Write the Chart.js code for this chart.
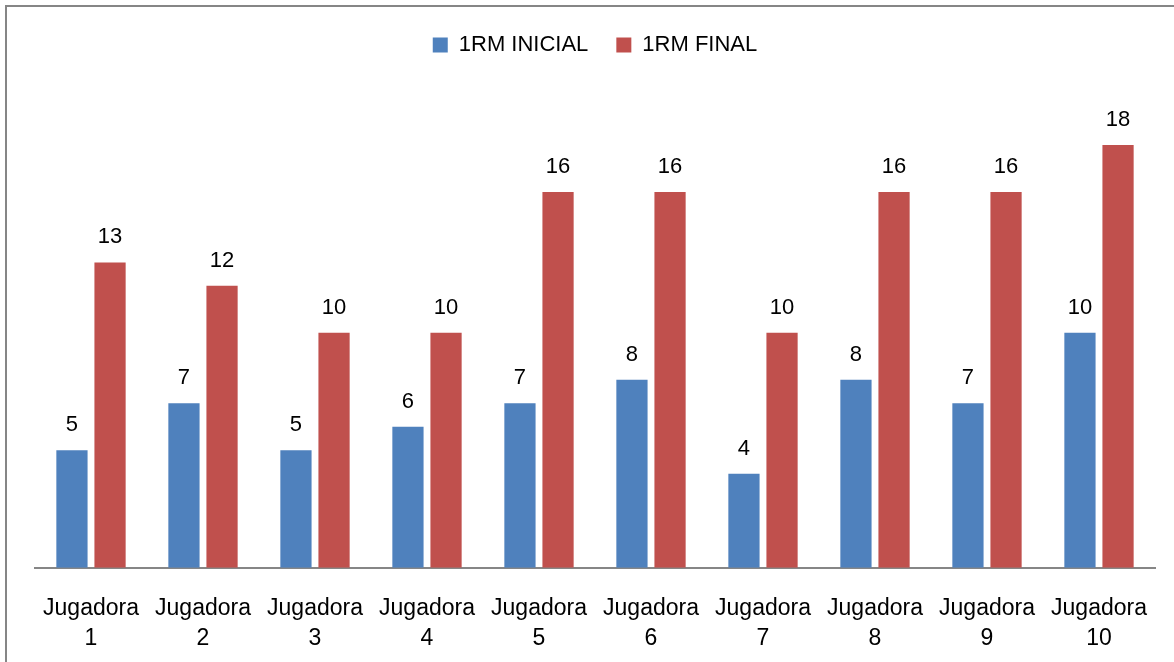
<!DOCTYPE html>
<html>
<head>
<meta charset="utf-8">
<script src="https://cdn.jsdelivr.net/npm/chart.js@4.4.0/dist/chart.umd.min.js"></script>
<style>
  html, body { margin: 0; padding: 0; background: #fff; overflow: hidden; }
  #caja { position: absolute; left: 0; top: 0; width: 1174px; height: 671px; }
</style>
</head>
<body>
<div id="caja"><canvas id="grafica"></canvas></div>
<script>
// Datos
const jugadoras = [
  ["Jugadora", "1"], ["Jugadora", "2"], ["Jugadora", "3"], ["Jugadora", "4"], ["Jugadora", "5"],
  ["Jugadora", "6"], ["Jugadora", "7"], ["Jugadora", "8"], ["Jugadora", "9"], ["Jugadora", "10"]
];
const rmInicial = [5, 7, 5, 6, 7, 8, 4, 8, 7, 10];
const rmFinal = [13, 12, 10, 10, 16, 16, 10, 16, 16, 18];

const fuente = "'Liberation Sans', 'DejaVu Sans', sans-serif";

// Marco gris (solo se ven los bordes izquierdo y superior)
const marco = {
  id: "marco",
  beforeDraw(chart) {
    const ctx = chart.ctx;
    ctx.save();
    ctx.strokeStyle = "#868686";
    ctx.lineWidth = 2;
    ctx.beginPath();
    ctx.moveTo(6, chart.height + 5);
    ctx.lineTo(6, 6);
    ctx.lineTo(chart.width + 5, 6);
    ctx.stroke();
    ctx.restore();
  }
};

// Más espacio debajo de la leyenda
const espacioLeyenda = {
  id: "espacioLeyenda",
  beforeInit(chart) {
    const fitOriginal = chart.legend.fit;
    chart.legend.fit = function () {
      fitOriginal.bind(chart.legend)();
      this.height += 32;
    };
  }
};

// Etiquetas de valor encima de cada barra
const etiquetas = {
  id: "etiquetas",
  afterDatasetsDraw(chart) {
    const ctx = chart.ctx;
    ctx.save();
    ctx.font = "22px " + fuente;
    ctx.fillStyle = "#000";
    ctx.textAlign = "center";
    ctx.textBaseline = "alphabetic";
    chart.data.datasets.forEach((ds, i) => {
      chart.getDatasetMeta(i).data.forEach((bar, j) => {
        ctx.fillText(ds.data[j], bar.x, bar.y - 19);
      });
    });
    ctx.restore();
  }
};

new Chart(document.getElementById("grafica"), {
  type: "bar",
  data: {
    labels: jugadoras,
    datasets: [
      { label: "1RM INICIAL", data: rmInicial, backgroundColor: "#4F81BD" },
      { label: "1RM FINAL", data: rmFinal, backgroundColor: "#C0504D" }
    ]
  },
  options: {
    responsive: true,
    maintainAspectRatio: false,
    animation: false,
    barPercentage: 0.82,
    categoryPercentage: 0.68,
    layout: { padding: { left: 35, right: 19, top: 6, bottom: 0 } },
    plugins: {
      legend: {
        position: "top",
        labels: {
          boxWidth: 15,
          boxHeight: 15,
          padding: 28,
          color: "#000",
          font: { size: 22, family: fuente }
        }
      },
      tooltip: { enabled: false }
    },
    scales: {
      x: {
        grid: { display: false },
        border: { display: true, color: "#868686", width: 2 },
        ticks: {
          color: "#000",
          maxRotation: 0,
          padding: 18,
          font: { size: 23, family: fuente, lineHeight: 1.29 }
        }
      },
      y: {
        display: false,
        min: 0,
        max: 20
      }
    }
  },
  plugins: [marco, espacioLeyenda, etiquetas]
});
</script>
</body>
</html>
